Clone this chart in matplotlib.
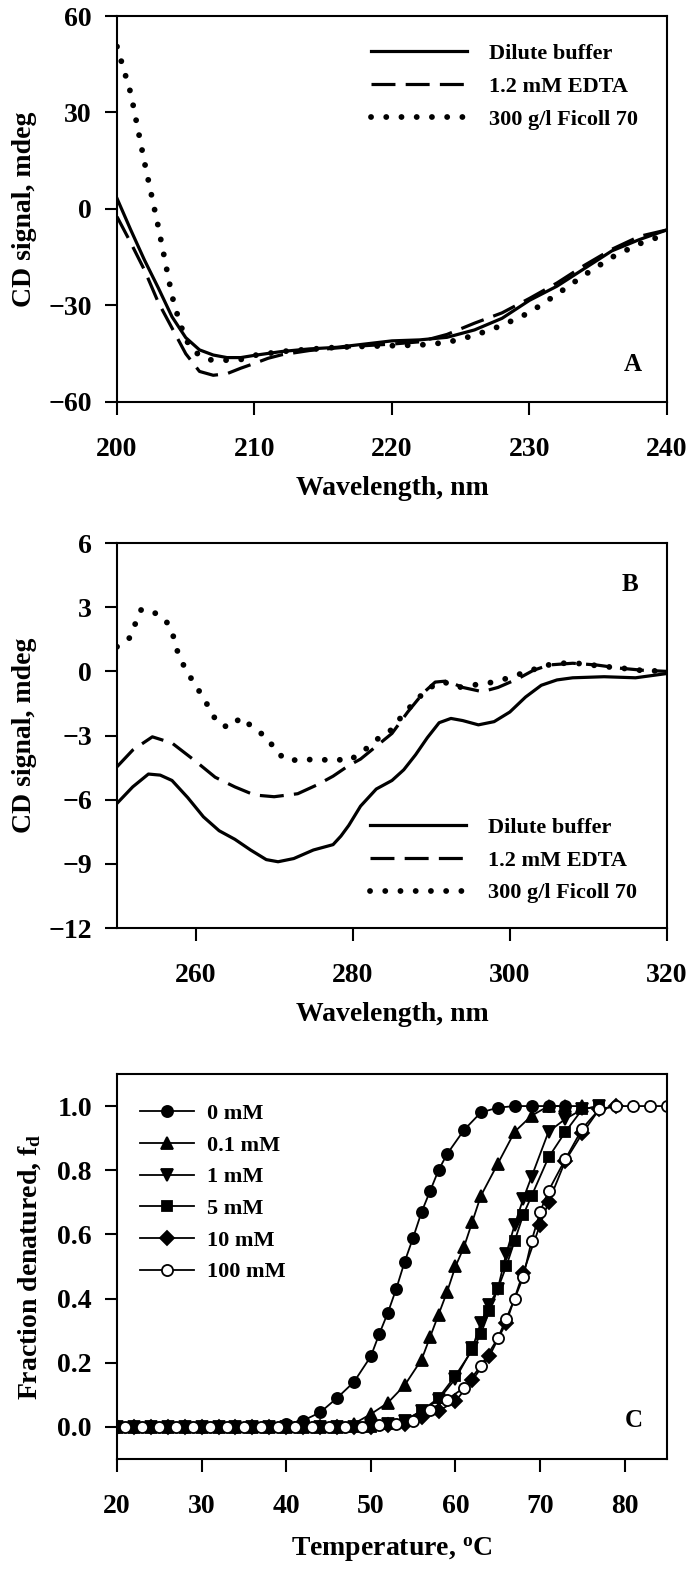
import numpy as np
import matplotlib
matplotlib.use("Agg")
import matplotlib.pyplot as plt

#---------------------------------------
# police : Times gras
plt.rcParams['font.family'] = 'serif'
plt.rcParams['font.serif'] = ['Liberation Serif', 'DejaVu Serif']
plt.rcParams['font.weight'] = 'bold'
plt.rcParams['axes.labelweight'] = 'bold'
plt.rcParams['mathtext.fontset'] = 'custom'
plt.rcParams['mathtext.rm'] = 'Liberation Serif:bold'
plt.rcParams['mathtext.it'] = 'Liberation Serif:bold'
plt.rcParams['mathtext.bf'] = 'Liberation Serif:bold'

#---------------------------------------
# Panneau A : CD en UV lointain
wlA_dilute = [200, 201, 202, 203, 204, 205, 206, 207, 208, 209, 210, 212, 214, 216, 218, 220,
              222, 224, 226, 228, 230, 232, 234, 236, 238, 240]
cdA_dilute = [3.3, -6.5, -15.9, -24.5, -33.5, -40.0, -43.8, -45.4, -46.2, -46.2, -45.5, -44.3,
              -43.5, -43.0, -42.0, -41.0, -40.7, -39.9, -37.6, -34.0, -28.4, -24.0, -18.5,
              -13.0, -9.5, -6.5]

wlA_edta = [200, 201, 202, 203, 204, 205, 206, 207, 208, 209, 210, 211, 212, 214, 216, 218, 220,
            222, 224, 226, 228, 230, 232, 234, 236, 238, 240]
cdA_edta = [-2.4, -10.5, -19.0, -29.0, -37.0, -45.0, -50.5, -51.7, -51.2, -49.5, -48.0, -46.4,
            -45.3, -44.0, -43.2, -42.5, -42.0, -41.3, -39.0, -35.5, -32.3, -27.8, -23.0, -17.5,
            -12.5, -8.5, -6.5]

wlA_ficoll = [200, 201, 202, 203, 204, 204.5, 205, 205.5, 206.5, 207, 208, 209, 210, 212, 214,
              216, 218, 220, 222, 224, 226, 228, 230, 232, 234, 236, 238, 240]
cdA_ficoll = [50.5, 36.0, 14.5, -5.5, -27.0, -34.5, -40.5, -44.0, -46.7, -47.0, -47.0, -46.8,
              -45.5, -44.3, -43.6, -43.0, -42.7, -42.5, -42.3, -41.5, -39.3, -36.2, -32.2,
              -26.5, -20.5, -15.0, -10.8, -7.8]

#---------------------------------------
# Panneau B : CD en UV proche
wlB_dilute = [250, 252, 254, 255.5, 257, 259, 261, 263, 265, 267, 269, 270.5, 272.5, 275, 277.5,
              278.5, 279.5, 281, 283, 285, 286.5, 288, 289.5, 291, 292.5, 294, 296, 298, 300,
              302, 304, 306, 308, 312, 316, 320]
cdB_dilute = [-6.17, -5.4, -4.8, -4.85, -5.1, -5.9, -6.8, -7.45, -7.85, -8.35, -8.8, -8.9, -8.75,
              -8.35, -8.1, -7.7, -7.2, -6.3, -5.5, -5.1, -4.6, -3.9, -3.1, -2.4, -2.2, -2.3,
              -2.5, -2.35, -1.9, -1.2, -0.65, -0.4, -0.3, -0.25, -0.3, -0.1]

wlB_edta = [250, 252, 254.5, 257, 260, 262.5, 265, 267.5, 270, 273, 275.5, 277.5, 279.5, 281, 283,
            285, 287, 289, 290.5, 292, 294, 296.5, 298.5, 301, 303, 305, 308, 311, 314, 317, 320]
cdB_edta = [-4.46, -3.68, -3.06, -3.35, -4.2, -4.95, -5.4, -5.78, -5.86, -5.72, -5.3, -4.9, -4.4,
            -4.1, -3.5, -2.9, -1.9, -1.0, -0.5, -0.45, -0.75, -0.95, -0.75, -0.35, 0.05, 0.3,
            0.38, 0.3, 0.15, 0.05, 0.0]

wlB_ficoll = [250, 251.5, 252.3, 253.1, 254.7, 256.2, 257.1, 257.6, 258.4, 259.5, 260.7, 261.8,
              262.8, 264.3, 265.8, 267.4, 269.2, 270.3, 271.9, 273.7, 275.6, 277.5, 279.4,
              281.3, 283, 284.9, 286.2, 287.7, 289.6, 291.5, 293.4, 295.3, 297.1, 299, 300.9,
              302.8, 304.7, 306.6, 308.5, 310.6, 312.3, 314.5, 316.4, 318, 320]
cdB_ficoll = [1.15, 1.5, 2.2, 2.9, 2.76, 2.4, 1.73, 1.03, 0.34, -0.37, -1.06, -1.75, -2.43,
              -2.63, -2.15, -2.66, -3.12, -3.8, -4.19, -4.08, -4.18, -4.08, -4.2, -3.75, -3.2,
              -2.74, -2.12, -1.5, -0.79, -0.48, -0.75, -0.64, -0.56, -0.4, -0.17, 0.06, 0.29,
              0.38, 0.38, 0.29, 0.22, 0.14, 0.06, 0.0, 0.1]

labelsAB = ["Dilute buffer", "1.2 mM EDTA", "300 g/l Ficoll 70"]

#---------------------------------------
# Panneau C : denaturation thermique
base_pair = [20, 22, 24, 26, 28, 30, 32, 34, 36, 38]

T_0 = base_pair + [40, 42, 44, 46, 48, 50, 51, 52, 53, 54, 55, 56, 57, 58, 59, 61, 63, 65, 67,
                   69, 71, 73]
f_0 = [0]*10 + [0.01, 0.02, 0.045, 0.09, 0.14, 0.22, 0.29, 0.355, 0.43, 0.515, 0.59, 0.67,
                0.735, 0.80, 0.85, 0.925, 0.98, 0.995, 1.0, 1.0, 1.0, 1.0]

T_01 = base_pair + [40, 42, 44, 46, 48, 50, 52, 54, 56, 57, 58, 59, 60, 61, 62, 63, 65, 67, 69,
                    71, 73, 75]
f_01 = [0]*10 + [0, 0, 0, 0, 0.01, 0.04, 0.075, 0.13, 0.21, 0.28, 0.35, 0.42, 0.50, 0.56, 0.64,
                 0.72, 0.82, 0.92, 0.97, 1.0, 1.0, 1.0]

T_1 = base_pair + [40, 42, 44, 46, 48, 50, 52, 54, 56, 58, 60, 62, 63, 64, 65, 66, 67, 68, 69,
                   71, 73, 75, 77]
f_1 = [0]*10 + [0, 0, 0, 0, 0, 0, 0.01, 0.02, 0.05, 0.085, 0.15, 0.245, 0.325, 0.38, 0.43,
                0.54, 0.63, 0.71, 0.78, 0.92, 0.96, 0.99, 1.0]

T_5 = base_pair + [40, 42, 44, 46, 48, 50, 52, 54, 56, 58, 60, 62, 63, 64, 65, 66, 67, 68, 69,
                   71, 73, 75, 77]
f_5 = [0]*10 + [0, 0, 0, 0, 0, 0, 0.01, 0.02, 0.05, 0.09, 0.16, 0.24, 0.29, 0.36, 0.43, 0.50,
                0.58, 0.66, 0.72, 0.84, 0.92, 0.99, 1.0]

T_10 = base_pair + [40, 42, 44, 46, 48, 50, 52, 54, 56, 58, 60, 62, 64, 66, 68, 70, 71, 73, 75,
                    77, 79]
f_10 = [0]*10 + [0, 0, 0, 0, 0, 0, 0.005, 0.01, 0.03, 0.05, 0.08, 0.146, 0.22, 0.325, 0.48,
                 0.63, 0.70, 0.83, 0.915, 0.99, 1.0]

T_100 = [21, 23, 25, 27, 29, 31, 33, 35, 37, 39, 41, 43, 45, 47, 49, 51, 53, 55, 57, 59, 61, 63,
         65, 66, 67, 68, 69, 70, 71, 73, 75, 77, 79, 81, 83, 85]
f_100 = [0]*15 + [0.005, 0.01, 0.02, 0.054, 0.085, 0.122, 0.19, 0.276, 0.337, 0.40, 0.466,
                  0.58, 0.67, 0.736, 0.835, 0.93, 0.99, 1.0, 1.0, 1.0, 1.0]

labelsC = ["0 mM", "0.1 mM", "1 mM", "5 mM", "10 mM", "100 mM"]

#---------------------------------------
# styles des courbes
dotted = (0, (0.01, 2.6))
dashed = (0, (7.5, 3.2))


# mise en forme commune des axes
def styleAxe(ax):
    for s in ax.spines.values():
        s.set_linewidth(1.5)
    ax.tick_params(direction='out', length=9, width=1.5, labelsize=20, top=False, right=False)
    ax.tick_params(axis='x', pad=16)
    ax.tick_params(axis='y', pad=9)


fig = plt.figure(figsize=(6.96, 15.69), dpi=100)

#---------------------------------------
# A
axA = fig.add_axes([0.1681, 0.7438, 0.7902, 0.2460])
axA.plot(wlA_dilute, cdA_dilute, color='black', lw=2.3, label=labelsAB[0])
axA.plot(wlA_edta, cdA_edta, color='black', lw=2.3, linestyle=dashed, label=labelsAB[1])
axA.plot(wlA_ficoll, cdA_ficoll, color='black', lw=4.2, linestyle=dotted,
         dash_capstyle='round', label=labelsAB[2])
axA.set_xlim(200, 240)
axA.set_ylim(-60, 60)
axA.set_xticks([200, 210, 220, 230, 240])
axA.set_yticks([-60, -30, 0, 30, 60])
axA.set_xlabel("Wavelength, nm", fontsize=20, labelpad=10)
axA.set_ylabel("CD signal, mdeg", fontsize=20, labelpad=8)
styleAxe(axA)
axA.legend(loc='upper left', bbox_to_anchor=(0.442, 0.957), frameon=False, fontsize=16,
           handlelength=4.3, handletextpad=1.0, labelspacing=0.55, borderpad=0)
axA.text(0.938, 0.096, "A", transform=axA.transAxes, fontsize=18, ha='center', va='center')

#---------------------------------------
# B
axB = fig.add_axes([0.1681, 0.4085, 0.7902, 0.2454])
axB.plot(wlB_dilute, cdB_dilute, color='black', lw=2.3, label=labelsAB[0])
axB.plot(wlB_edta, cdB_edta, color='black', lw=2.3, linestyle=dashed, label=labelsAB[1])
axB.plot(wlB_ficoll, cdB_ficoll, color='black', lw=4.2, linestyle=dotted,
         dash_capstyle='round', label=labelsAB[2])
axB.set_xlim(250, 320)
axB.set_ylim(-12, 6)
axB.set_xticks([260, 280, 300, 320])
axB.set_yticks([-12, -9, -6, -3, 0, 3, 6])
axB.set_xlabel("Wavelength, nm", fontsize=20, labelpad=10)
axB.set_ylabel("CD signal, mdeg", fontsize=20, labelpad=8)
styleAxe(axB)
axB.legend(loc='lower left', bbox_to_anchor=(0.44, 0.035), frameon=False, fontsize=16,
           handlelength=4.3, handletextpad=1.0, labelspacing=0.55, borderpad=0)
axB.text(0.933, 0.891, "B", transform=axB.transAxes, fontsize=18, ha='center', va='center')

#---------------------------------------
# C
axC = fig.add_axes([0.1681, 0.0701, 0.7902, 0.2454])
series = [(T_0, f_0, 'o', 'black'), (T_01, f_01, '^', 'black'), (T_1, f_1, 'v', 'black'),
          (T_5, f_5, 's', 'black'), (T_10, f_10, 'D', 'black'), (T_100, f_100, 'o', 'white')]
for i in range(len(series)):
    T, f, m, fc = series[i]
    ms = 8
    if m == 's' or m == 'D':
        ms = 7
    axC.plot(T, f, color='black', lw=1.3, marker=m, markersize=ms, markerfacecolor=fc,
             markeredgecolor='black', markeredgewidth=1.3, label=labelsC[i])
axC.set_xlim(20, 85)
axC.set_ylim(-0.1, 1.1)
axC.set_xticks([20, 30, 40, 50, 60, 70, 80])
axC.set_yticks([0.0, 0.2, 0.4, 0.6, 0.8, 1.0])
axC.set_yticklabels(['%.1f' % v for v in [0.0, 0.2, 0.4, 0.6, 0.8, 1.0]])
axC.set_xlabel(r"Temperature, $^\mathrm{o}$C", fontsize=20, labelpad=12)
axC.set_ylabel(r"Fraction denatured, f$_\mathrm{d}$", fontsize=20, labelpad=10)
styleAxe(axC)
axC.legend(loc='upper left', bbox_to_anchor=(0.022, 0.952), frameon=False, fontsize=16,
           handlelength=2.4, handletextpad=0.6, labelspacing=0.5, borderpad=0, numpoints=1)
axC.text(0.94, 0.099, "C", transform=axC.transAxes, fontsize=18, ha='center', va='center')

fig.savefig("out.png", dpi=100)
